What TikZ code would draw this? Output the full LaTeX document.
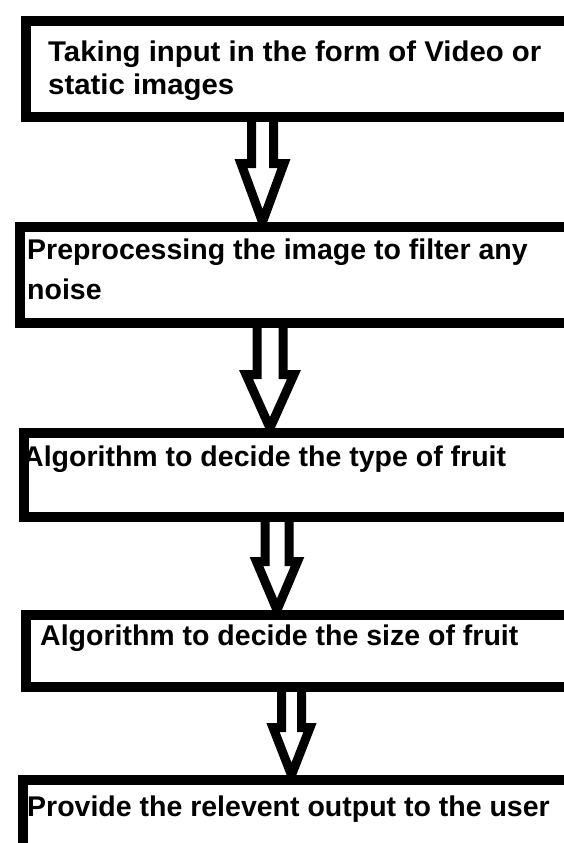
\documentclass[tikz,border=0pt]{standalone}
\usepackage{fontspec}
\setmainfont{Liberation Sans}
\usetikzlibrary{backgrounds,calc}
\tikzset{
  stagebox/.style={draw=black, line width=10pt, fill=white, rectangle, inner sep=0pt, anchor=north west},
  stagetext/.style={anchor=base west, inner sep=0pt, font=\fontsize{28.5}{33}\selectfont\bfseries, text=black},
  arrowline/.style={draw=black, line width=9pt, line join=miter, miter limit=10, fill=white},
}
\newcommand{\blockarrow}[7]{%
  \coordinate (#7) at (#3,#6);
  \draw[arrowline] ([xshift=-#4pt]#7 |- #1.south) -- ([xshift=-#4pt]#7) -- ([xshift=-#5pt]#7)
     -- (#7 |- #2.north) -- ([xshift=#5pt]#7) -- ([xshift=#4pt]#7) -- ([xshift=#4pt]#7 |- #1.south);
}
\begin{document}
\begin{tikzpicture}[x=1pt,y=-1pt]
\useasboundingbox (0,0) rectangle (564,843);
% boxes
\node[stagebox, minimum width=543pt, minimum height=96pt] (b1) at (21,16) {};
\node[stagebox, minimum width=585pt, minimum height=96pt] (b2) at (15,222) {};
\node[stagebox, minimum width=585pt, minimum height=84pt] (b3) at (19,428) {};
\node[stagebox, minimum width=585pt, minimum height=72pt] (b4) at (21,610) {};
\node[stagebox, minimum width=585pt, minimum height=72pt] (b5) at (18,775) {};
% texts
\node[stagetext, xscale=1.03] (t1a) at (48,62) {Taking input in the form of Video or};
\node[stagetext, xscale=1.03] (t1b) at (48,95) {static images};
\node[stagetext] (t2a) at (27,259) {Preprocessing the image to filter any};
\node[stagetext] (t2b) at (27,299) {noise};
\node[stagetext] (t3) at (23,466) {Algorithm to decide the type of fruit};
\node[stagetext] (t4) at (40,645) {Algorithm to decide the size of fruit};
\node[stagetext] (t5) at (27,816) {Provide the relevent output to the user};
% arrows
\begin{scope}[on background layer]
\fill[white] (0,0) rectangle (564,843);
\blockarrow{b1}{b2}{262.5}{11}{21.5}{163.5}{a1}
\blockarrow{b2}{b3}{270}{13}{24}{374.5}{a2}
\blockarrow{b3}{b4}{277}{12}{20.5}{561.5}{a3}
\blockarrow{b4}{b5}{291.5}{10}{18.5}{727.5}{a4}
\end{scope}
\end{tikzpicture}
\end{document}
